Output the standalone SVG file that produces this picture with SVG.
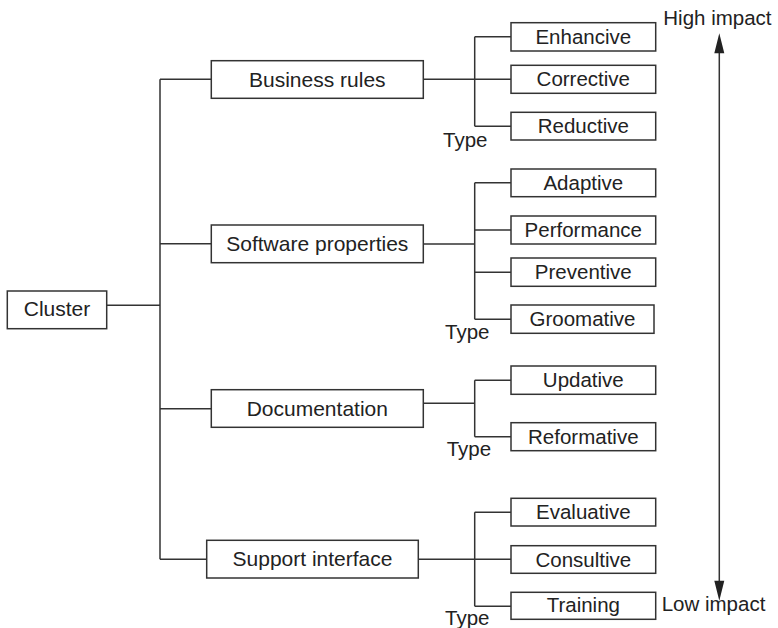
<svg xmlns="http://www.w3.org/2000/svg" width="778" height="628" viewBox="0 0 778 628">
<style>
.box{fill:#fff;stroke:#333;stroke-width:1.5}
.t{font-family:"Liberation Sans",Arial,sans-serif;font-size:21px;fill:#222;text-anchor:middle}
.s{font-family:"Liberation Sans",Arial,sans-serif;font-size:20.5px;fill:#222;text-anchor:middle}
.l{font-family:"Liberation Sans",Arial,sans-serif;font-size:20.5px;fill:#222}
.c{fill:none;stroke:#333;stroke-width:1.5}
</style>
<rect width="778" height="628" fill="#fff"/>
<g id="connectors" class="c">
<path d="M106.7 305.3H160M160 79.3V559.3M160 79.3H211.3M160 243.7H211.3M160 408.7H211.3M160 559.3H206.7"/>
<path d="M423.3 79.3H511M474.7 36.8V126.2M474.7 36.8H511M474.7 126.2H511"/>
<path d="M423.3 244H474.7M474.7 182.8V319.2M474.7 182.8H511M474.7 230H511M474.7 272.2H511M474.7 319.2H511"/>
<path d="M423.3 403.3H474.7M474.7 380.2V436.7M474.7 380.2H511M474.7 436.7H511"/>
<path d="M418.3 559.3H511M474.7 512.2V606.3M474.7 512.2H511M474.7 606.3H511"/>
<path d="M719.3 50V584"/>
<path d="M719.3 33.3L714.3 53.3H724.3Z M719.3 600.7L714.3 580.7H724.3Z" fill="#222" stroke="none"/>
</g>
<g id="cluster"><rect class="box" x="7.3" y="291" width="99.4" height="37.7"/><text class="t" x="57" y="316">Cluster</text></g>
<g id="business-rules"><rect class="box" x="211.3" y="60.7" width="212" height="37.6"/><text class="t" x="317.3" y="86.7">Business rules</text></g>
<g id="software-properties"><rect class="box" x="211.3" y="225" width="212" height="37.7"/><text class="t" x="317.3" y="251">Software properties</text></g>
<g id="documentation"><rect class="box" x="211.3" y="389.7" width="212" height="37.6"/><text class="t" x="317.3" y="415.5">Documentation</text></g>
<g id="support-interface"><rect class="box" x="206.7" y="540.3" width="211.6" height="37.7"/><text class="t" x="312.5" y="566.2">Support interface</text></g>
<g id="enhancive"><rect class="box" x="511" y="22.7" width="144.7" height="28.3"/><text class="s" x="583.3" y="43.7">Enhancive</text></g>
<g id="corrective"><rect class="box" x="511" y="65.3" width="144.7" height="28"/><text class="s" x="583.3" y="86.3">Corrective</text></g>
<g id="reductive"><rect class="box" x="511" y="112.3" width="144.7" height="27.7"/><text class="s" x="583.3" y="133.2">Reductive</text></g>
<g id="adaptive"><rect class="box" x="511" y="169" width="144.7" height="27.7"/><text class="s" x="583.3" y="189.8">Adaptive</text></g>
<g id="performance"><rect class="box" x="511" y="216" width="144.7" height="28"/><text class="s" x="583.3" y="237">Performance</text></g>
<g id="preventive"><rect class="box" x="511" y="258" width="144.7" height="28.3"/><text class="s" x="583.3" y="279.2">Preventive</text></g>
<g id="groomative"><rect class="box" x="511" y="305" width="143" height="28.3"/><text class="s" x="582.5" y="326.2">Groomative</text></g>
<g id="updative"><rect class="box" x="511" y="366" width="144.7" height="28.3"/><text class="s" x="583.3" y="387.2">Updative</text></g>
<g id="reformative"><rect class="box" x="511" y="422.7" width="144.7" height="28"/><text class="s" x="583.3" y="443.7">Reformative</text></g>
<g id="evaluative"><rect class="box" x="511" y="498.3" width="144.7" height="27.7"/><text class="s" x="583.3" y="519.2">Evaluative</text></g>
<g id="consultive"><rect class="box" x="511" y="545.7" width="144.7" height="27.6"/><text class="s" x="583.3" y="566.5">Consultive</text></g>
<g id="training"><rect class="box" x="511" y="592.3" width="144.7" height="27"/><text class="s" x="583.3" y="612">Training</text></g>
<g id="labels">
<text class="l" x="443" y="146.7">Type</text>
<text class="l" x="445" y="339.3">Type</text>
<text class="l" x="446.7" y="455.7">Type</text>
<text class="l" x="445" y="625">Type</text>
<text class="l" x="663.3" y="25">High impact</text>
<text class="l" x="661.7" y="610.7">Low impact</text>
</g>
</svg>
